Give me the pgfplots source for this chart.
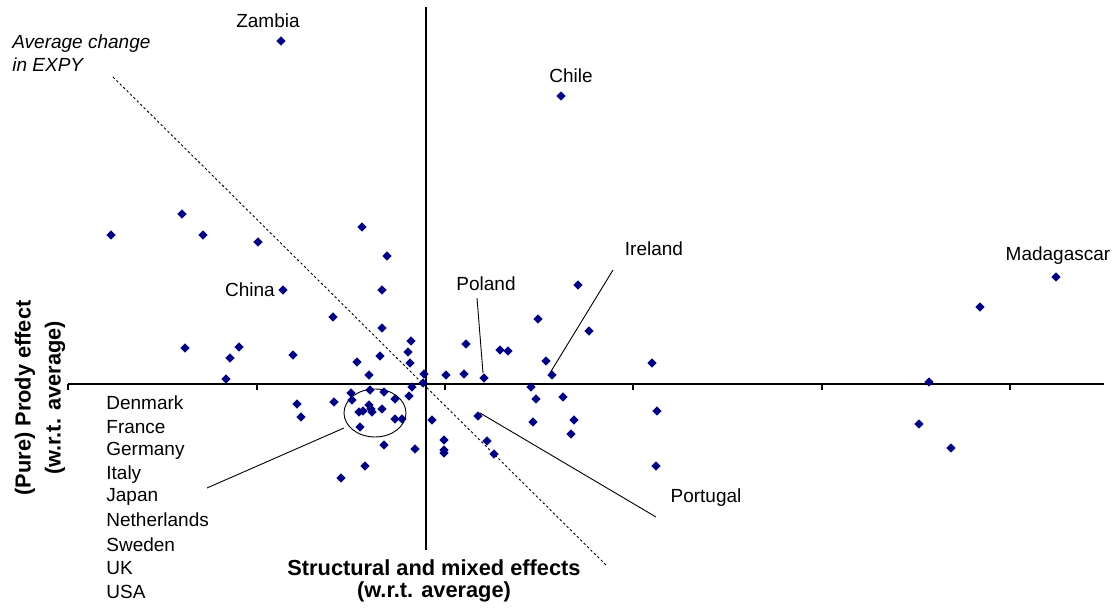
\documentclass[border=0pt]{standalone}
\usepackage{pgfplots}
\pgfplotsset{compat=1.18}
\usepackage{fontspec}
\setmainfont{Liberation Sans}
\definecolor{navy}{RGB}{0,0,128}
\begin{document}
\begin{tikzpicture}
\useasboundingbox (-34pt,-29.5pt) rectangle (523.5pt,275pt);
\begin{axis}[
  scale only axis, width=518pt, height=271.5pt,
  xmin=-358, xmax=678, ymin=-166, ymax=377,
  axis lines=middle,
  axis line style={-, line width=0.6pt, black},
  every inner x axis line/.append style={-},
  every inner y axis line/.append style={-},
  xtick={-358,-169,19,207,396,584}, xticklabels={},
  ytick=\empty,
  tick align=outside, major tick length=3pt,
  tick style={black, line width=0.6pt},
  clip=false,
  font=\fontsize{9.5pt}{11pt}\selectfont,
]
\addplot[only marks, mark=square*, mark size=1.45pt,
  mark options={rotate=45, fill=navy, draw=navy}] coordinates {
(-145,343) (135,288) (-315,149) (-244,170) (-223,149) (-168,142)
(-143,94) (-64,157) (-39,128) (-44,94) (-93,67) (-44,56)
(-241,36) (-187,37) (-196,26) (-200,5) (-133,29) (-69,22)
(-46,28) (-57,9) (-15,43) (-18,32) (-16,21) (-2,10) (-3,1)
(20,9) (38,10) (40,40) (58,6) (74,34) (82,33) (112,65)
(152,99) (163,53) (120,23) (126,9) (226,21) (105,-3) (110,-15)
(137,-13) (52,-32) (107,-38) (148,-36) (145,-50) (231,-27)
(230,-82) (18,-56) (18,-66) (18,-69) (61,-57) (68,-70)
(-14,-3) (-17,-12) (-56,-6) (-42,-8) (-75,-9) (-74,-16)
(-92,-18) (-129,-20) (-125,-33) (-31,-15) (-57,-21) (-55,-25)
(-54,-28) (-44,-25) (-67,-28) (-63,-27) (-31,-35) (-24,-35)
(6,-36) (-66,-43) (-42,-61) (-11,-65) (-61,-82) (-85,-94)
(503,2) (493,-40) (525,-64) (554,77) (630,107)
};
% average change line
\draw[dash pattern=on 1.2pt off 1.2pt, line width=0.45pt] (axis cs:-313,307) -- (axis cs:181,-182);
% annotation lines
\draw[line width=0.45pt] (axis cs:51,86) -- (axis cs:57,11);
\draw[line width=0.45pt] (axis cs:187,114) -- (axis cs:124,11);
\draw[line width=0.45pt] (axis cs:54,-29) -- (axis cs:230,-133);
\draw[line width=0.45pt] (axis cs:-51,-29) ellipse [x radius=15.5pt, y radius=12pt];
\draw[line width=0.45pt] (axis cs:-82,-44) -- (axis cs:-219,-104);
% labels
\node at (axis cs:-158,363) {Zambia};
\node at (axis cs:145,308) {Chile};
\node at (axis cs:-176,94) {China};
\node at (axis cs:60,100) {Poland};
\node at (axis cs:228,135) {Ireland};
\node at (axis cs:632,128) {Madagascar};
\node at (axis cs:280,-114) {Portugal};
\node[anchor=west, inner sep=0pt] at (axis cs:-414,340) {\itshape Average change};
\node[anchor=west, inner sep=0pt] at (axis cs:-414,319) {\itshape in EXPY};
\node[anchor=west, inner sep=0pt] at (axis cs:-320,-19) {Denmark};
\node[anchor=west, inner sep=0pt] at (axis cs:-320,-43) {France};
\node[anchor=west, inner sep=0pt] at (axis cs:-320,-67) {Germany};
\node[anchor=west, inner sep=0pt] at (axis cs:-320,-91) {Italy};
\node[anchor=west, inner sep=0pt] at (axis cs:-320,-113) {Japan};
\node[anchor=west, inner sep=0pt] at (axis cs:-320,-136) {Netherlands};
\node[anchor=west, inner sep=0pt] at (axis cs:-320,-161) {Sweden};
\node[anchor=west, inner sep=0pt] at (axis cs:-320,-184) {UK};
\node[anchor=west, inner sep=0pt] at (axis cs:-320,-208) {USA};
\node[font=\fontsize{10.9pt}{12pt}\selectfont\bfseries] at (axis cs:8,-184) {Structural and mixed effects};
\node[font=\fontsize{10.9pt}{12pt}\selectfont\bfseries] at (axis cs:8,-208) {(w.r.t. average)};
\node[rotate=90, font=\fontsize{10.9pt}{12pt}\selectfont\bfseries] at (axis cs:-401,-14) {(Pure) Prody effect};
\node[rotate=90, font=\fontsize{10.9pt}{12pt}\selectfont\bfseries] at (axis cs:-371,-14) {(w.r.t. average)};
\end{axis}
\end{tikzpicture}
\end{document}
